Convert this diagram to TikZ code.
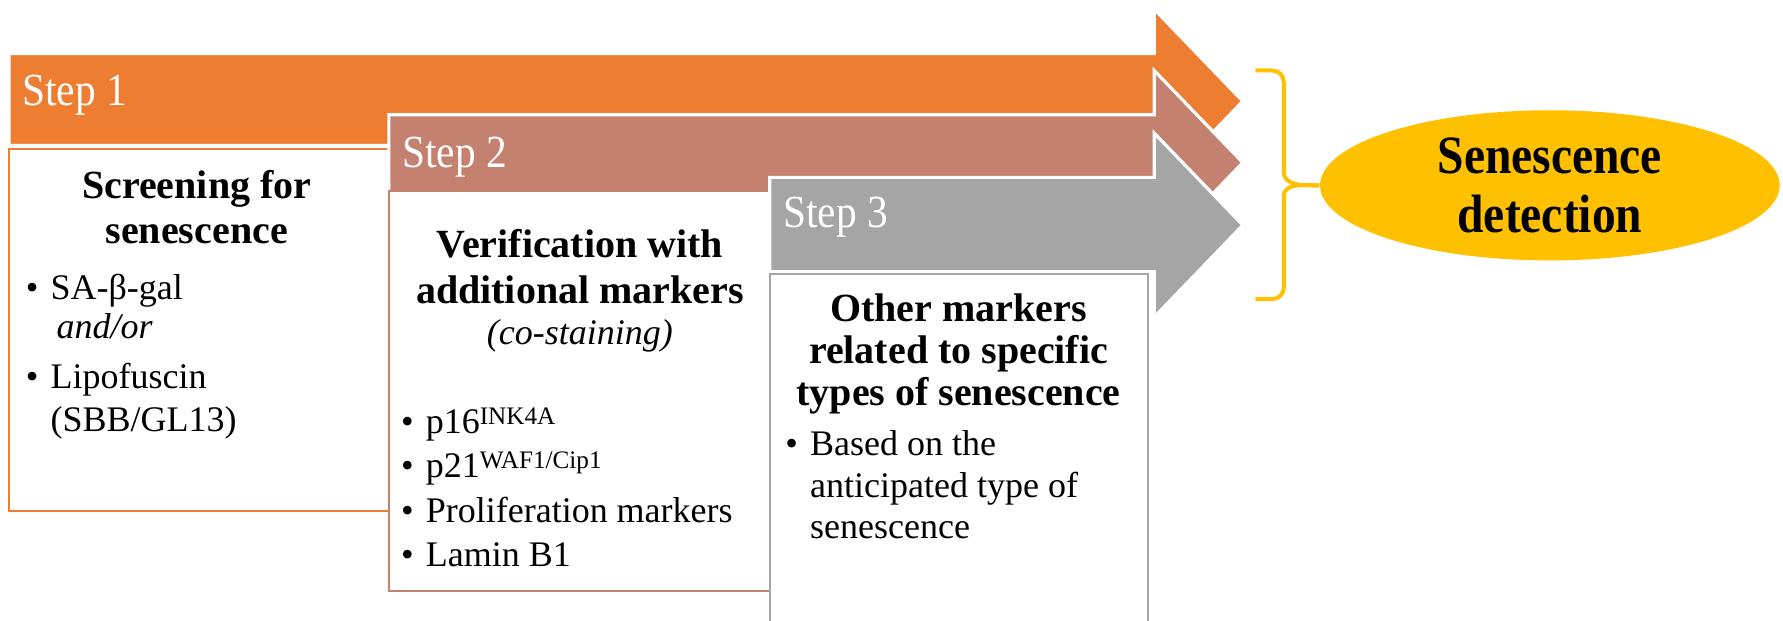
\documentclass[tikz,border=0pt]{standalone}
\usepackage{fontspec}
\setmainfont{Liberation Serif}
\newfontfamily\stepfont{Liberation Serif}[FakeStretch=0.9]
\newfontfamily\goalfont{Liberation Serif}[FakeStretch=0.88]
\usetikzlibrary{shapes.geometric}
\definecolor{stepone}{HTML}{ED7D31}
\definecolor{steptwo}{HTML}{C48170}
\definecolor{stepthree}{HTML}{A5A5A5}
\definecolor{gold}{HTML}{FFC000}
\newcommand\bul{\makebox[6.2pt][l]{\textbullet}}
\newcommand\ind{\hspace*{6.2pt}}
\newcommand\gsup[1]{\raisebox{2.2pt}{\fontsize{6.3}{7}\selectfont #1}}

\begin{document}
\begin{tikzpicture}[x=0.01cm, y=-0.01cm,
  arrowbody/.style={draw=white, line width=0.8pt},
  card/.style={fill=white, line width=0.5pt},
  steplabel/.style={text=white, font=\stepfont\fontsize{11.5}{14}\selectfont, anchor=base west, inner sep=0pt},
  heading/.style={font=\bfseries\fontsize{10}{11.4}\selectfont, align=center, anchor=north, inner sep=0pt},
  items/.style={font=\fontsize{9}{10.6}\selectfont, align=left, anchor=north west, inner sep=0pt},
  goalshape/.style={ellipse, fill=gold, inner sep=0pt, minimum width=4.04cm, minimum height=1.32cm,
    font=\goalfont\bfseries\fontsize{13.5}{14.8}\selectfont, align=center},
  bracestyle/.style={draw=gold, line width=1pt, line join=round}
]
\useasboundingbox (0,0) rectangle (1568,546);
\clip (0,0) rectangle (1568,546);

% step 1: arrow and card
\fill[stepone, arrowbody] (8,47) -- (1015,47) -- (1015,8) -- (1093,89) -- (1015,170) -- (1015,128) -- (8,128) -- cycle;
\draw[card, draw=stepone] (8,131) rectangle (676,449);
\node[steplabel] (s1) at (19,93) {Step 1};
\node[heading] (h1) at (173,149) {Screening for\\senescence};
\node[items] (l1) at (22,240) {\bul SA-β-gal\\[-0.8pt]\ind\hspace*{1.5pt}\textit{and/or}\\[2pt]\bul Lipofuscin\\\ind(SBB/GL13)};

% step 2: arrow and card
\fill[steptwo, arrowbody] (342,101) -- (1015,101) -- (1015,62) -- (1093,143) -- (1015,224) -- (1015,185) -- (342,185) -- cycle;
\draw[card, draw=steptwo] (342,168) rectangle (1009,520);
\node[steplabel] (s2) at (353,147) {Step 2};
\node[heading] (h2) at (510,201) {Verification with\\additional markers\\[-1pt]{\mdseries\itshape\fontsize{9}{10}\selectfont (co-staining)}};
\node[items, font=\fontsize{9}{11.1}\selectfont] (l2) at (352,358) {\bul p16\gsup{INK4A}\\\bul p21\gsup{WAF1/Cip1}\\\bul Proliferation markers\\\bul Lamin B1};

% step 3: arrow and card
\fill[stepthree, arrowbody] (677,156) -- (1015,156) -- (1015,117) -- (1093,198) -- (1015,279) -- (1015,239) -- (677,239) -- cycle;
\draw[card, draw=stepthree] (677,241) rectangle (1010,600);
\node[steplabel] (s3) at (688,200) {Step 3};
\node[heading, font=\bfseries\fontsize{10}{10.4}\selectfont] (h3) at (843,258) {Other markers\\related to specific\\types of senescence};
\node[items, font=\fontsize{9}{10.4}\selectfont] (l3) at (690,378) {\bul Based on the\\\ind anticipated type of\\\ind senescence};

% outcome
\node[goalshape] (goal) at (1363,163) {Senescence\\detection};
\coordinate (btop) at (1104,62);
\coordinate (bbot) at (1104,263);
\draw[bracestyle] (btop) -- (1119,62) to[out=0,in=90] (1129,72) -- (1129,151) to[out=-90,in=180] (goal.west);
\draw[bracestyle] (goal.west) to[out=180,in=90] (1129,173) -- (1129,253) to[out=-90,in=0] (1119,263) -- (bbot);
\end{tikzpicture}
\end{document}
